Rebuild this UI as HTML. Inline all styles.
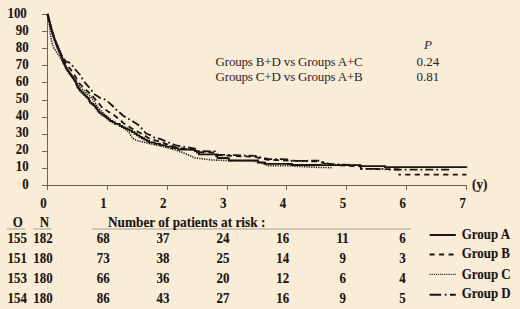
<!DOCTYPE html>
<html><head><meta charset="utf-8"><style>
html,body{margin:0;padding:0;}
body{width:520px;height:309px;overflow:hidden;background:#F9EDD8;}
svg{display:block;}
.b text{font-family:"Liberation Serif",serif;font-weight:bold;font-size:13.6px;fill:#1b1510;stroke:#1b1510;stroke-width:0.12px;}
.r text{font-family:"Liberation Serif",serif;font-weight:normal;font-size:13px;fill:#2b241d;}
</style></head><body>
<svg width="520" height="309" viewBox="0 0 520 309">
<line x1="47.5" y1="14" x2="47.5" y2="190" stroke="#6e6454" stroke-width="1"/>
<line x1="42" y1="185.5" x2="467" y2="185.5" stroke="#6e6454" stroke-width="1"/>
<line x1="42" y1="185.5" x2="47.5" y2="185.5" stroke="#6e6454" stroke-width="1"/>
<line x1="42" y1="168.5" x2="47.5" y2="168.5" stroke="#6e6454" stroke-width="1"/>
<line x1="42" y1="151.5" x2="47.5" y2="151.5" stroke="#6e6454" stroke-width="1"/>
<line x1="42" y1="134.5" x2="47.5" y2="134.5" stroke="#6e6454" stroke-width="1"/>
<line x1="42" y1="117.5" x2="47.5" y2="117.5" stroke="#6e6454" stroke-width="1"/>
<line x1="42" y1="100.5" x2="47.5" y2="100.5" stroke="#6e6454" stroke-width="1"/>
<line x1="42" y1="82.5" x2="47.5" y2="82.5" stroke="#6e6454" stroke-width="1"/>
<line x1="42" y1="65.5" x2="47.5" y2="65.5" stroke="#6e6454" stroke-width="1"/>
<line x1="42" y1="48.5" x2="47.5" y2="48.5" stroke="#6e6454" stroke-width="1"/>
<line x1="42" y1="31.5" x2="47.5" y2="31.5" stroke="#6e6454" stroke-width="1"/>
<line x1="42" y1="14.5" x2="47.5" y2="14.5" stroke="#6e6454" stroke-width="1"/>
<line x1="47.5" y1="185.5" x2="47.5" y2="190" stroke="#6e6454" stroke-width="1"/>
<line x1="107.5" y1="185.5" x2="107.5" y2="190" stroke="#6e6454" stroke-width="1"/>
<line x1="167.5" y1="185.5" x2="167.5" y2="190" stroke="#6e6454" stroke-width="1"/>
<line x1="227.5" y1="185.5" x2="227.5" y2="190" stroke="#6e6454" stroke-width="1"/>
<line x1="286.5" y1="185.5" x2="286.5" y2="190" stroke="#6e6454" stroke-width="1"/>
<line x1="346.5" y1="185.5" x2="346.5" y2="190" stroke="#6e6454" stroke-width="1"/>
<line x1="406.5" y1="185.5" x2="406.5" y2="190" stroke="#6e6454" stroke-width="1"/>
<line x1="466.5" y1="185.5" x2="466.5" y2="190" stroke="#6e6454" stroke-width="1"/>
<polyline points="47.5,14.5 49.1,21.7 50.2,31.4 51.3,40.2 53.6,47.7 58.6,55.0 62.0,60.5 66.0,67.5 71.0,74.5 77.8,83.7 80.7,87.5 85.6,92.4 90.4,96.3 94.0,101.0 98.0,107.5 104.0,114.0 110.0,119.0 116.0,123.5 122.0,127.0 127.0,130.5 129.2,132.6 132.6,138.4 137.5,140.8 145.0,142.5 160.0,145.8 175.0,149.8 185.0,153.5 195.0,157.9 212.0,160.0 229.0,160.6 253.0,160.8 260.0,162.5 268.0,165.6 288.0,165.8 320.0,167.5 332.0,167.6" fill="none" stroke="#1b1510" stroke-width="1.6" stroke-dasharray="1.2 1.2"/>
<polyline points="47.5,14.5 49.5,21.7 52.0,31.4 55.2,40.2 58.2,47.7 62.3,57.0 64.5,62.0 70.5,69.3 75.2,76.3 79.2,83.3 85.0,89.0 90.5,94.0 95.0,99.0 98.5,103.0 102.5,107.9 108.0,111.5 113.4,114.7 119.7,119.6 123.6,123.2 130.7,127.7 138.4,132.0 143.3,134.5 148.2,138.0 155.0,140.3 160.0,141.5 176.0,147.6 195.0,149.8 199.0,152.2 215.0,152.5 218.0,155.2 235.0,156.0 255.0,156.8 262.0,158.5 268.0,159.8 288.0,160.5 318.0,161.5 330.0,164.8 361.0,166.5 361.0,168.8 398.4,169.3 398.4,174.6" fill="none" stroke="#1b1510" stroke-width="1.8" stroke-dasharray="5.5 4"/>
<polyline points="398.4,174.6 466.5,174.6" fill="none" stroke="#1b1510" stroke-width="1.8" stroke-dasharray="5.2 4.3" stroke-dashoffset="2.7"/>
<polyline points="47.5,14.5 49.5,21.7 52.2,31.4 55.2,40.2 58.5,48.0 61.0,55.0 64.0,59.0 66.0,61.5 70.5,63.0 73.5,67.0 77.0,71.5 80.5,75.2 82.5,79.0 84.6,82.2 88.0,86.1 91.4,90.0 93.8,93.8 100.3,98.0 104.4,99.2 107.8,101.6 112.7,106.0 115.1,108.9 118.3,111.3 123.1,115.7 126.5,117.6 130.4,120.0 136.2,123.4 139.6,125.9 142.3,129.2 146.2,133.5 151.0,135.5 154.0,137.4 160.0,138.9 176.0,145.5 195.0,148.5 198.0,151.2 215.0,151.4 218.0,154.6 235.0,155.2 255.0,155.9 262.0,157.8 268.0,159.0 288.0,159.3 292.0,161.0 318.0,160.6 330.0,164.0 361.0,165.5 361.0,168.8 385.7,168.8 385.7,169.7" fill="none" stroke="#1b1510" stroke-width="1.8" stroke-dasharray="8 3 1.8 3"/>
<polyline points="385.7,169.7 451.5,169.7" fill="none" stroke="#1b1510" stroke-width="1.8" stroke-dasharray="8 3 1.8 3" stroke-dashoffset="7.8"/>
<path d="M47.50,14.50H47.86V15.94H48.22V17.38H48.58V18.82H48.94V20.26H49.30V21.70H49.72V23.32H50.13V24.93H50.55V26.55H50.97V28.17H51.38V29.78H51.80V31.40H52.27V32.87H52.73V34.33H53.20V35.80H53.67V37.27H54.13V38.73H54.60V40.20H55.14V41.70H55.68V43.20H56.22V44.70H56.76V46.20H57.30V47.70H58.05V49.32H58.80V50.93H59.55V52.55H60.30V54.17H61.05V55.78H61.80V57.40H62.22V58.80H62.65V60.20H63.08V61.60H63.50V63.00H64.30V64.67H65.10V66.35H65.90V68.03H66.70V69.70H67.73V71.15H68.77V72.60H69.80V74.05H70.83V75.50H71.87V76.95H72.90V78.40H73.83V79.70H74.77V81.00H75.70V82.30H76.17V83.73H76.63V85.17H77.10V86.60H78.07V88.03H79.03V89.47H80.00V90.90H81.43V92.30H82.87V93.70H84.30V95.10H85.73V96.53H87.17V97.97H88.60V99.40H89.25V101.00H89.90V102.60H91.50V103.87H93.10V105.13H94.70V106.40H95.68V107.76H96.66V109.12H97.64V110.48H98.62V111.84H99.60V113.20H101.53V114.50H103.47V115.80H105.40V117.10H106.93V118.40H108.47V119.70H110.00V121.00H112.45V122.45H114.90V123.90H119.70V125.90H122.15V127.10H124.60V128.30H127.15V129.45H129.70V130.60H132.12V132.18H134.55V133.75H136.97V135.32H139.40V136.90H141.82V138.25H144.25V139.60H146.68V140.95H149.10V142.30H154.55V143.75H160.00V145.20H166.00V146.63H172.00V148.07H178.00V149.50H195.00V151.00H197.00V152.70H199.00V154.40H215.00H216.25V156.20H217.50V158.00H227.00V158.30H229.00V160.50H253.00H258.00V162.50H265.00V163.80H288.00V164.00H292.00V165.00H320.00V165.20H360.00V166.20H385.00V167.20H466.50V167.40" fill="none" stroke="#1b1510" stroke-width="1.8"/>
<line x1="7" y1="229" x2="25.5" y2="229" stroke="#aaa090" stroke-width="1"/>
<line x1="33.3" y1="229" x2="51.5" y2="229" stroke="#aaa090" stroke-width="1"/>
<line x1="92" y1="229" x2="411" y2="229" stroke="#aaa090" stroke-width="1"/>
<line x1="429.6" y1="235" x2="455.8" y2="235" stroke="#1b1510" stroke-width="2"/>
<line x1="429.6" y1="254.6" x2="455.8" y2="254.6" stroke="#1b1510" stroke-width="2" stroke-dasharray="5 4.5"/>
<line x1="429.6" y1="274.4" x2="455.8" y2="274.4" stroke="#1b1510" stroke-width="1.3" stroke-dasharray="1 1.1"/>
<line x1="429.6" y1="294.8" x2="455.8" y2="294.8" stroke="#1b1510" stroke-width="2" stroke-dasharray="11.6 3.6 1.6 3.6"/>
<g class="b">
<text transform="translate(28.60,188.50) scale(0.95,1)" text-anchor="end">0</text>
<text transform="translate(28.60,171.40) scale(0.95,1)" text-anchor="end">10</text>
<text transform="translate(28.60,154.30) scale(0.95,1)" text-anchor="end">20</text>
<text transform="translate(28.60,137.20) scale(0.95,1)" text-anchor="end">30</text>
<text transform="translate(28.60,120.10) scale(0.95,1)" text-anchor="end">40</text>
<text transform="translate(28.60,103.00) scale(0.95,1)" text-anchor="end">50</text>
<text transform="translate(28.60,85.90) scale(0.95,1)" text-anchor="end">60</text>
<text transform="translate(28.60,68.80) scale(0.95,1)" text-anchor="end">70</text>
<text transform="translate(28.60,51.70) scale(0.95,1)" text-anchor="end">80</text>
<text transform="translate(28.60,34.60) scale(0.95,1)" text-anchor="end">90</text>
<text transform="translate(26.80,17.50) scale(0.95,1)" text-anchor="end">100</text>
<text transform="translate(43.60,207.80) scale(0.95,1)" text-anchor="middle">0</text>
<text transform="translate(103.46,207.80) scale(0.95,1)" text-anchor="middle">1</text>
<text transform="translate(163.32,207.80) scale(0.95,1)" text-anchor="middle">2</text>
<text transform="translate(223.18,207.80) scale(0.95,1)" text-anchor="middle">3</text>
<text transform="translate(283.04,207.80) scale(0.95,1)" text-anchor="middle">4</text>
<text transform="translate(342.90,207.80) scale(0.95,1)" text-anchor="middle">5</text>
<text transform="translate(402.76,207.80) scale(0.95,1)" text-anchor="middle">6</text>
<text transform="translate(462.62,207.80) scale(0.95,1)" text-anchor="middle">7</text>
<text transform="translate(472.00,189.00) scale(0.95,1)" style="font-size:14px">(y)</text>
<text transform="translate(17.70,227.00) scale(0.95,1)" text-anchor="middle">O</text>
<text transform="translate(44.30,227.00) scale(0.95,1)" text-anchor="middle">N</text>
<text transform="translate(108.00,227.00) scale(0.95,1)" style="font-size:14px">Number of patients at risk :</text>
<text transform="translate(17.30,243.00) scale(0.95,1)" text-anchor="middle">155</text>
<text transform="translate(43.00,243.00) scale(0.95,1)" text-anchor="middle">182</text>
<text transform="translate(103.20,243.00) scale(0.95,1)" text-anchor="middle">68</text>
<text transform="translate(163.06,243.00) scale(0.95,1)" text-anchor="middle">37</text>
<text transform="translate(222.92,243.00) scale(0.95,1)" text-anchor="middle">24</text>
<text transform="translate(282.78,243.00) scale(0.95,1)" text-anchor="middle">16</text>
<text transform="translate(342.64,243.00) scale(0.95,1)" text-anchor="middle">11</text>
<text transform="translate(402.50,243.00) scale(0.95,1)" text-anchor="middle">6</text>
<text transform="translate(17.30,263.00) scale(0.95,1)" text-anchor="middle">151</text>
<text transform="translate(43.00,263.00) scale(0.95,1)" text-anchor="middle">180</text>
<text transform="translate(103.20,263.00) scale(0.95,1)" text-anchor="middle">73</text>
<text transform="translate(163.06,263.00) scale(0.95,1)" text-anchor="middle">38</text>
<text transform="translate(222.92,263.00) scale(0.95,1)" text-anchor="middle">25</text>
<text transform="translate(282.78,263.00) scale(0.95,1)" text-anchor="middle">14</text>
<text transform="translate(342.64,263.00) scale(0.95,1)" text-anchor="middle">9</text>
<text transform="translate(402.50,263.00) scale(0.95,1)" text-anchor="middle">3</text>
<text transform="translate(17.30,283.00) scale(0.95,1)" text-anchor="middle">153</text>
<text transform="translate(43.00,283.00) scale(0.95,1)" text-anchor="middle">180</text>
<text transform="translate(103.20,283.00) scale(0.95,1)" text-anchor="middle">66</text>
<text transform="translate(163.06,283.00) scale(0.95,1)" text-anchor="middle">36</text>
<text transform="translate(222.92,283.00) scale(0.95,1)" text-anchor="middle">20</text>
<text transform="translate(282.78,283.00) scale(0.95,1)" text-anchor="middle">12</text>
<text transform="translate(342.64,283.00) scale(0.95,1)" text-anchor="middle">6</text>
<text transform="translate(402.50,283.00) scale(0.95,1)" text-anchor="middle">4</text>
<text transform="translate(17.30,303.00) scale(0.95,1)" text-anchor="middle">154</text>
<text transform="translate(43.00,303.00) scale(0.95,1)" text-anchor="middle">180</text>
<text transform="translate(103.20,303.00) scale(0.95,1)" text-anchor="middle">86</text>
<text transform="translate(163.06,303.00) scale(0.95,1)" text-anchor="middle">43</text>
<text transform="translate(222.92,303.00) scale(0.95,1)" text-anchor="middle">27</text>
<text transform="translate(282.78,303.00) scale(0.95,1)" text-anchor="middle">16</text>
<text transform="translate(342.64,303.00) scale(0.95,1)" text-anchor="middle">9</text>
<text transform="translate(402.50,303.00) scale(0.95,1)" text-anchor="middle">5</text>
<text transform="translate(461.80,238.70) scale(0.95,1)">Group A</text>
<text transform="translate(461.80,258.00) scale(0.95,1)">Group B</text>
<text transform="translate(461.80,278.60) scale(0.95,1)">Group C</text>
<text transform="translate(461.80,298.00) scale(0.95,1)">Group D</text>
</g>
<g class="r">
<text x="424" y="49" font-style="italic">P</text>
<text x="215.5" y="65.8" letter-spacing="-0.17">Groups B+D vs Groups A+C</text>
<text x="215.5" y="81" letter-spacing="-0.17">Groups C+D vs Groups A+B</text>
<text x="416.5" y="65.8">0.24</text>
<text x="416.5" y="81">0.81</text>
</g>
</svg>
</body></html>
